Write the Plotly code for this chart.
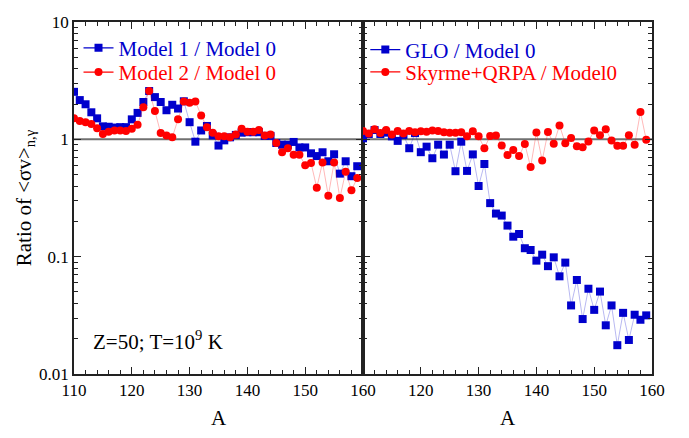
import plotly.graph_objects as go
from plotly.subplots import make_subplots

# Mass numbers of the Sn (Z=50) isotopic chain
mass_number = list(range(110, 160))

# Left panel: ratios relative to Model 0
model1_ratio = [2.54, 2.16, 1.99, 1.70, 1.51, 1.29, 1.28, 1.26, 1.27, 1.27,
                1.48, 1.68, 2.08, 2.58, 2.29, 2.08, 1.77, 1.97, 1.83, 2.11,
                1.40, 0.955, 1.19, 1.30, 1.08, 0.885, 0.98, 1.04, 1.09, 1.14,
                1.15, 1.15, 1.15, 1.07, 1.07, 0.93, 0.90, 0.90, 0.95, 0.853,
                0.853, 0.76, 0.72, 0.776, 0.65, 0.746, 0.51, 0.65, 0.485, 0.59]
model2_ratio = [1.51, 1.43, 1.40, 1.35, 1.24, 1.11, 1.16, 1.19, 1.19, 1.18,
                1.23, 1.33, 1.88, 2.58, 1.74, 1.13, 1.08, 1.04, 1.48, 2.10,
                2.05, 2.10, 1.60, 1.27, 1.14, 1.06, 1.06, 1.04, 1.10, 1.23,
                1.16, 1.16, 1.20, 1.08, 1.10, 0.93, 0.776, 0.84, 0.74, 0.74,
                0.60, 0.63, 0.387, 0.634, 0.33, 0.634, 0.316, 0.53, 0.368, 0.468]

# Right panel: ratios relative to Model 0
glo_ratio = [1.02, 1.11, 1.20, 1.11, 1.14, 1.06, 0.97, 1.09, 0.84, 1.13,
             0.777, 0.866, 0.69, 0.90, 0.742, 0.90, 0.535, 0.955, 0.538, 0.744,
             0.40, 0.616, 0.286, 0.233, 0.224, 0.184, 0.148, 0.156, 0.118, 0.114,
             0.0925, 0.104, 0.083, 0.0987, 0.068, 0.089, 0.0384, 0.0633, 0.0294, 0.0533,
             0.0352, 0.0504, 0.026, 0.0384, 0.0176, 0.0332, 0.0195, 0.032, 0.029, 0.0316]
skyrme_ratio = [1.18, 1.12, 1.22, 1.13, 1.20, 1.10, 1.18, 1.12, 1.18, 1.15,
                1.17, 1.16, 1.19, 1.18, 1.15, 1.14, 1.14, 1.15, 1.06, 1.17,
                1.06, 0.84, 1.07, 1.08, 0.886, 0.735, 0.81, 0.72, 0.913, 0.58,
                1.145, 0.66, 1.155, 0.915, 1.315, 0.925, 1.025, 0.873, 0.857, 0.957,
                1.19, 1.083, 1.22, 0.975, 0.88, 0.88, 1.085, 0.90, 1.71, 0.99]

left_names = ["Model 1 / Model 0", "Model 2 / Model 0"]
right_names = ["GLO / Model 0", "Skyrme+QRPA / Model0"]
y_tick_vals = [0.01, 0.1, 1, 10]
y_tick_text = ["0.01", "0.1", "1", "10"]
left_x_ticks = [110, 120, 130, 140, 150, 160]
right_x_ticks = [120, 130, 140, 150, 160]

BLUE = "#0000CC"
RED = "#FF0000"
BLUE_LINE = "rgba(0,0,204,0.28)"
RED_LINE = "rgba(255,0,0,0.28)"
FONT = "Liberation Serif, Times New Roman, serif"

fig = make_subplots(rows=1, cols=2, shared_yaxes=True, horizontal_spacing=0)

series = [
    (model1_ratio, left_names[0], BLUE, BLUE_LINE, "square", 1, "legend"),
    (model2_ratio, left_names[1], RED, RED_LINE, "circle", 1, "legend2"),
    (glo_ratio, right_names[0], BLUE, BLUE_LINE, "square", 2, "legend3"),
    (skyrme_ratio, right_names[1], RED, RED_LINE, "circle", 2, "legend4"),
]

for values, name, color, line_color, symbol, col, legend_id in series:
    # data: faint connecting line with solid markers
    fig.add_trace(go.Scatter(
        x=mass_number, y=values, mode="lines+markers", name=name,
        line=dict(color=line_color, width=1),
        marker=dict(symbol=symbol, size=8, color=color, line=dict(width=0)),
        showlegend=False,
    ), row=1, col=col)
    # legend key drawn with a solid line
    fig.add_trace(go.Scatter(
        x=[None], y=[None], mode="lines+markers", name=name,
        line=dict(color=color, width=1.2),
        marker=dict(symbol=symbol, size=8, color=color),
        legend=legend_id,
    ), row=1, col=col)

# reference line at ratio = 1
for xr, yr in (("x domain", "y"), ("x2 domain", "y2")):
    fig.add_shape(type="line", xref=xr, yref=yr, x0=0, x1=1, y0=1, y1=1,
                  line=dict(color="#707070", width=2), layer="below")

axis_common = dict(
    showline=True, linecolor="#222222", linewidth=1.5, mirror="ticks",
    ticks="inside", ticklen=7, tickwidth=1.2, tickcolor="#222222",
    showgrid=False, zeroline=False,
    tickfont=dict(family=FONT, size=17, color="black"),
)

x_minor = dict(ticks="inside", ticklen=4, dtick=2, tick0=110, tickcolor="#222222", showgrid=False)
fig.update_xaxes(range=[110, 160], **axis_common, minor=x_minor,
                 title=dict(text="A", font=dict(family=FONT, size=21, color="black"), standoff=11))
fig.update_xaxes(tickmode="array", tickvals=left_x_ticks, row=1, col=1)
fig.update_xaxes(tickmode="array", tickvals=right_x_ticks, row=1, col=2)

y_minor_vals = [m * 10.0 ** e for e in (-2, -1, 0) for m in range(2, 10)]
fig.update_yaxes(type="log", range=[-2, 1], **axis_common,
                 tickmode="array", tickvals=y_tick_vals, ticktext=y_tick_text,
                 minor=dict(tickmode="array", tickvals=y_minor_vals, ticks="inside",
                            ticklen=4, tickcolor="#222222", showgrid=False))
fig.update_yaxes(title=dict(text="Ratio of &lt;σv&gt;<sub>n,γ</sub>",
                            font=dict(family=FONT, size=21, color="black"), standoff=2),
                 row=1, col=1)
fig.update_yaxes(showticklabels=False, row=1, col=2)

legend_common = dict(bgcolor="rgba(0,0,0,0)", borderwidth=0, xanchor="left",
                     yanchor="middle", itemwidth=30, tracegroupgap=0)
fig.update_layout(
    legend=dict(x=0.0078, y=0.9256, font=dict(family=FONT, size=21, color=BLUE), **legend_common),
    legend2=dict(x=0.0078, y=0.8567, font=dict(family=FONT, size=21, color=RED), **legend_common),
    legend3=dict(x=0.504, y=0.9206, font=dict(family=FONT, size=21, color=BLUE), **legend_common),
    legend4=dict(x=0.504, y=0.8573, font=dict(family=FONT, size=21, color=RED), **legend_common),
)

fig.add_annotation(text="Z=50; T=10<sup>9</sup> K", xref="paper", yref="paper",
                   x=0.0297, y=0.0964, xanchor="left", yanchor="middle", showarrow=False,
                   font=dict(family=FONT, size=21, color="black"))

fig.update_layout(
    width=689, height=438,
    margin=dict(l=74, r=37, t=22, b=51),
    paper_bgcolor="white", plot_bgcolor="white",
    font=dict(family=FONT, color="black"),
)

fig.write_html("out.html")
